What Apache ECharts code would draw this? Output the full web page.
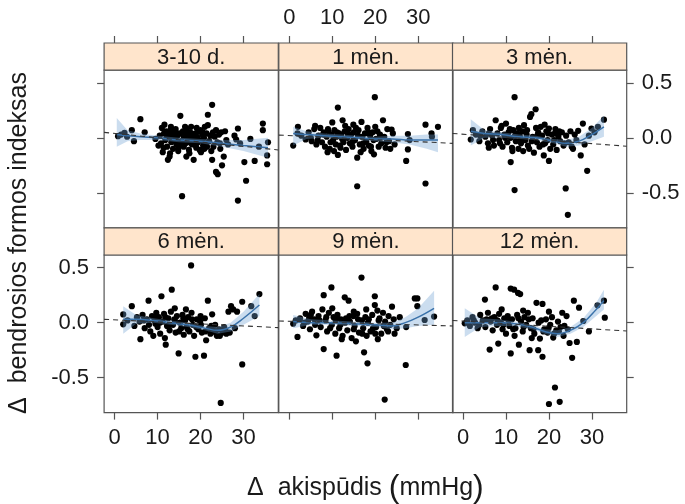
<!DOCTYPE html>
<html><head><meta charset="utf-8">
<script src="https://cdn.jsdelivr.net/npm/echarts@6/dist/echarts.min.js"></script>
<style>html,body{margin:0;padding:0;background:#fff}#c{width:685px;height:504px}</style>
</head><body><div id="c"></div>
<script>
// ---------------- data ----------------
const panelLabels = ['3-10 d.', '1 mėn.', '3 mėn.', '6 mėn.', '9 mėn.', '12 mėn.'];
const xTicks = [0, 10, 20, 30];
const yTicks = [-0.5, 0, 0.5];
const xTitle = 'akispūdis';
const yTitle = 'bendrosios formos indeksas';

const pts1 = [[0.8,0.015],[2.3,0.045],[2.9,0.01],[4.0,0.07],[4.5,-0.03],[6.0,0.17],[7.0,0.05],[1.5,0.03],
[10.5,0.02],[10.8,-0.05],[11.0,0.09],[11.2,-0.13],[11.5,0.04],[11.8,-0.02],[12.0,0.06],[12.2,-0.08],[12.4,-0.2],[12.6,0.01],[12.8,-0.17],[13.0,0.07],[13.2,-0.04],[13.4,0.03],[13.6,-0.1],[13.8,0.05],[14.0,-0.01],[14.2,0.08],[14.4,-0.06],[14.6,0.02],[14.8,-0.12],[15.0,0.04],[15.3,0.2],[15.5,-0.03],[15.7,-0.53],[15.9,0.06],[16.1,-0.08],[16.3,0.01],[16.5,-0.05],[16.7,-0.17],[16.9,0.03],[17.1,-0.02],[17.4,-0.14],[17.6,0.05],[17.8,0.1],[18.0,-0.06],[18.2,0.02],[18.4,-0.2],[18.6,-0.03],[18.8,0.04],[19.0,-0.09],[19.2,0.01],[19.4,-0.04],[19.6,0.06],[19.8,-0.11],[20.0,0.07],[20.2,-0.02],[20.4,0.03],[20.6,-0.07],[20.8,0.0],[21.0,0.1],[21.2,-0.05],[21.4,0.04],[21.7,0.115],[21.7,0.21],[22.0,-0.03],[22.3,0.02],[22.7,0.3],[22.7,-0.2],[23.0,-0.08],[23.3,0.01],[23.6,0.07],[23.6,-0.31],[23.9,-0.04],[24.0,-0.33],[24.3,0.03],[24.6,-0.1],[25.0,-0.25],[25.4,-0.17],[25.7,0.06],[26.0,-0.02],[26.4,-0.06],[27.9,0.02],[28.3,-0.015],[28.7,0.085],[28.7,-0.57],[29.2,-0.05],[30.2,-0.22],[30.6,-0.39],[31.6,-0.01],[32.6,-0.21],[33.6,-0.08],[34.5,0.13],[34.5,0.07],[35.5,-0.16],[35.5,-0.24],[35.7,-0.04],[9.5,-0.01],[10.2,-0.07],[11.6,0.12],[13.1,0.1],[14.9,-0.09],[16.8,0.08],[19.1,0.09],[20.9,-0.1],[22.5,-0.12],[24.8,0.05],[12.9,-0.14],[17.3,-0.11],
[12.1,0.0],[13.3,-0.02],[14.1,0.04],[15.2,-0.06],[16.0,0.02],[17.0,-0.04],[18.1,0.01],[19.5,-0.02],[20.5,0.05],[21.5,-0.08],[12.5,0.05],[14.5,-0.03],[16.4,0.1],[18.9,-0.07],[20.1,-0.13],[11.4,-0.09],[13.7,0.0],[17.7,-0.01],[22.9,0.05],[24.5,-0.05]];
const pts2 = [[0.9,-0.07],[2.0,0.1],[1.9,0.04],[3.8,-0.015],[2.8,0.02],[4.5,0.05],[5.2,-0.03],[5.8,0.08],[6.3,-0.06],[6.8,0.02],[7.2,0.09],[7.6,-0.04],[8.0,0.05],[8.3,-0.08],[8.7,0.01],[9.1,0.06],[9.4,-0.1],[9.8,0.03],[10.0,0.14],[10.2,-0.02],[10.5,0.07],[10.8,-0.06],[11.0,0.01],[11.3,0.275],[11.3,-0.155],[11.6,0.04],[11.9,-0.09],[12.1,0.02],[12.4,0.16],[12.6,-0.04],[12.9,0.06],[13.2,-0.11],[13.5,0.0],[13.8,0.08],[14.1,-0.05],[14.4,0.03],[14.7,-0.08],[15.0,0.05],[15.3,-0.02],[15.8,-0.44],[15.8,-0.18],[16.1,0.07],[16.4,-0.06],[16.8,0.145],[17.0,0.01],[17.3,-0.1],[17.6,0.04],[17.9,-0.03],[18.2,0.09],[18.5,-0.07],[18.8,0.02],[19.1,-0.12],[19.4,0.05],[19.7,-0.15],[19.9,0.37],[20.2,-0.01],[20.5,0.06],[20.8,-0.08],[21.1,0.03],[21.4,-0.05],[21.8,0.16],[22.1,0.01],[22.4,-0.09],[22.8,0.08],[23.2,-0.03],[23.8,0.076],[24.1,0.04],[24.5,-0.06],[27.2,-0.21],[27.6,-0.105],[27.6,0.035],[28.0,-0.02],[31.7,-0.415],[31.7,0.12],[33.1,0.04],[33.2,0.01],[34.6,0.1],[6.0,0.11],[8.9,-0.13],[13.0,0.11],[16.6,-0.13],[20.0,0.1],[23.5,-0.1],[10.4,-0.12],[14.9,0.12],
[5.0,0.0],[6.6,-0.02],[7.9,0.03],[9.6,-0.04],[11.1,0.05],[12.3,-0.01],[13.6,0.04],[14.8,-0.03],[16.0,0.02],[17.2,-0.05],[18.4,0.05],[19.6,-0.02],[21.0,0.0],[22.6,-0.04],[9.0,0.08],[11.8,-0.07],[15.5,0.09],[19.0,-0.08]];
const pts3 = [[1.8,-0.015],[2.3,0.07],[3.0,0.03],[3.8,-0.03],[4.5,0.06],[5.2,0.01],[5.8,-0.05],[6.3,0.08],[6.8,0.02],[7.2,-0.07],[7.6,0.16],[8.0,0.04],[8.4,-0.02],[8.8,0.09],[9.2,-0.08],[9.6,0.03],[10.0,0.13],[10.3,-0.04],[10.6,0.05],[11.1,-0.22],[11.1,0.0],[11.4,-0.09],[11.7,0.07],[12.0,0.37],[12.0,-0.475],[12.3,-0.03],[12.6,0.04],[12.9,-0.1],[13.2,0.02],[13.5,-0.05],[13.8,0.06],[14.2,0.115],[14.5,-0.02],[14.8,0.03],[15.1,-0.07],[15.6,0.19],[15.9,0.215],[16.2,0.01],[16.5,-0.135],[16.9,0.26],[17.2,-0.04],[17.5,0.05],[17.8,-0.08],[18.1,0.1],[18.4,0.02],[18.8,-0.16],[19.1,-0.05],[19.4,0.06],[19.7,-0.02],[20.0,0.085],[20.0,-0.21],[20.3,-0.1],[20.7,0.03],[21.0,-0.06],[21.4,0.04],[21.8,-0.11],[22.2,0.01],[22.6,-0.03],[23.0,0.05],[23.4,-0.07],[23.9,-0.46],[24.0,0.02],[24.4,-0.7],[24.6,-0.04],[25.0,0.06],[25.6,-0.1],[26.0,0.03],[26.4,-0.02],[26.8,0.064],[27.4,-0.16],[27.9,0.13],[28.3,-0.06],[28.9,-0.3],[29.3,0.02],[29.9,0.085],[30.6,0.05],[31.4,0.1],[32.8,0.165],[6.0,-0.09],[9.0,0.11],[14.0,-0.12],[17.0,0.09],[21.5,0.08],[25.3,-0.08],[13.0,0.09],[19.0,0.12],
[4.0,0.02],[6.0,0.04],[7.0,-0.02],[9.8,0.0],[10.9,0.08],[12.1,0.02],[13.4,-0.01],[14.9,0.07],[16.0,-0.03],[17.3,0.02],[18.6,-0.06],[19.8,0.04],[21.2,-0.02],[22.4,0.06],[23.6,-0.05],[8.6,-0.05],[11.5,-0.12],[15.4,-0.1]];
const pts4 = [[2.0,-0.015],[2.0,0.075],[3.0,0.02],[4.0,0.15],[4.6,-0.03],[5.2,0.05],[5.8,0.01],[6.0,-0.15],[6.5,0.07],[7.0,-0.05],[7.5,0.03],[7.9,0.2],[8.3,-0.08],[8.7,0.06],[9.0,-0.12],[9.3,0.02],[9.7,0.09],[10.0,-0.04],[10.3,0.05],[10.6,-0.1],[10.9,0.24],[11.2,0.01],[11.5,0.08],[11.9,-0.2],[12.2,-0.03],[12.5,0.04],[12.8,-0.07],[13.1,0.1],[13.3,0.3],[13.6,-0.02],[13.9,0.03],[14.2,-0.09],[14.5,0.06],[14.9,-0.28],[15.2,0.0],[15.5,-0.05],[15.8,0.07],[16.1,-0.11],[16.4,0.02],[16.8,-0.04],[17.1,0.05],[17.4,-0.08],[17.8,0.52],[17.9,0.09],[18.2,-0.02],[18.5,-0.12],[18.8,-0.31],[19.1,0.03],[19.5,-0.06],[19.9,0.01],[20.3,-0.09],[20.8,-0.3],[21.0,0.04],[21.3,-0.16],[21.7,0.2],[22.0,-0.05],[22.3,-0.1],[22.7,0.076],[23.0,-0.07],[23.4,-0.02],[23.8,-0.12],[24.3,-0.06],[24.7,-0.73],[25.1,-0.09],[25.5,-0.04],[26.0,-0.1],[26.5,0.1],[27.1,0.15],[27.6,0.12],[28.0,-0.05],[28.5,0.1],[29.7,0.19],[29.7,-0.38],[31.8,0.15],[32.6,0.06],[33.7,0.26],[11.7,-0.14],[16.6,0.12],[20.0,0.06],[14.0,0.13],[9.5,-0.01],
[6.8,0.02],[8.0,-0.02],[9.2,0.05],[10.5,0.0],[11.8,0.05],[12.9,-0.02],[14.0,0.02],[15.0,-0.08],[16.0,0.04],[17.0,-0.06],[18.0,0.03],[19.0,-0.04],[20.1,-0.02],[21.1,-0.08],[22.5,-0.03],[23.5,-0.09],[24.5,-0.12],[25.8,-0.07],[26.8,-0.09]];
const pts5 = [[0.9,-0.01],[1.5,0.02],[1.9,-0.13],[2.5,0.04],[3.2,-0.03],[3.8,0.08],[4.3,0.01],[4.8,-0.06],[5.3,0.1],[5.8,0.03],[6.3,-0.115],[6.8,0.06],[7.3,-0.04],[7.7,0.12],[8.0,0.25],[8.0,-0.24],[8.4,0.02],[8.8,-0.08],[9.2,0.09],[9.8,0.32],[9.9,-0.02],[10.3,0.05],[10.7,-0.1],[11.0,-0.3],[11.2,0.07],[11.6,-0.05],[12.0,0.03],[12.4,-0.12],[12.9,0.23],[13.2,0.04],[13.5,-0.07],[13.8,0.2],[14.1,0.01],[14.5,-0.14],[14.9,0.06],[15.2,-0.03],[15.5,-0.17],[15.8,0.08],[16.2,-0.09],[16.8,0.41],[16.9,0.02],[17.2,-0.05],[17.4,-0.27],[17.7,0.05],[18.0,-0.12],[18.2,-0.37],[18.5,0.03],[18.9,-0.08],[19.3,0.07],[19.9,0.24],[19.9,0.16],[20.2,-0.04],[20.6,-0.15],[21.0,0.04],[21.4,-0.1],[21.8,0.09],[22.2,-0.7],[22.3,0.01],[22.7,-0.06],[23.1,0.06],[23.5,-0.02],[23.9,0.145],[24.3,0.03],[25.0,-0.05],[25.7,0.05],[27.1,-0.385],[27.2,-0.04],[29.2,0.22],[29.8,0.22],[29.8,0.15],[31.5,0.024],[33.7,0.055],[5.0,0.07],[10.0,0.13],[15.0,0.1],[20.5,0.11],[24.5,-0.1],[12.2,-0.15],[17.9,0.12],
[3.5,0.0],[4.6,0.04],[6.0,-0.02],[7.0,0.02],[8.6,0.05],[9.5,-0.05],[10.8,0.02],[11.9,-0.02],[13.0,0.0],[14.0,0.06],[15.0,-0.06],[16.0,0.03],[17.0,-0.1],[18.3,0.0],[19.5,-0.05],[20.8,0.02],[22.0,-0.03],[23.0,-0.08],[20.0,-0.1]];
const pts6 = [[0.4,-0.006],[1.0,0.02],[1.6,-0.03],[2.2,0.05],[2.8,0.0],[3.4,-0.05],[4.0,0.07],[4.6,0.02],[5.1,0.21],[5.2,-0.04],[5.8,0.09],[6.2,-0.245],[6.4,0.01],[6.9,-0.07],[7.3,0.05],[7.6,0.32],[7.9,-0.02],[8.2,-0.19],[8.4,0.08],[8.8,0.0],[9.2,-0.06],[9.6,0.04],[10.0,-0.1],[10.4,0.06],[10.8,-0.03],[11.1,0.31],[11.1,-0.28],[11.4,0.03],[11.9,0.3],[12.2,-0.05],[12.6,0.07],[12.8,0.27],[13.0,-0.2],[13.3,0.26],[13.5,0.01],[13.9,-0.08],[14.3,0.05],[14.7,-0.02],[15.1,0.09],[15.5,-0.25],[15.8,-0.05],[16.2,0.04],[16.6,-0.1],[17.1,0.18],[17.5,-0.25],[17.9,-0.145],[18.2,0.02],[18.5,0.17],[18.5,-0.31],[18.9,-0.06],[19.3,0.03],[19.7,-0.09],[20.0,-0.74],[20.3,-0.02],[20.7,0.05],[21.0,-0.136],[21.4,-0.59],[21.7,-0.07],[22.1,0.01],[22.5,-0.72],[22.7,-0.04],[23.1,0.09],[23.6,-0.03],[24.1,0.06],[24.8,-0.185],[25.4,-0.32],[25.8,0.2],[26.5,-0.175],[27.0,0.136],[28.0,0.015],[29.3,-0.08],[31.3,0.157],[32.8,0.2],[33.0,0.045],[9.0,0.12],[14.0,0.11],[16.0,-0.14],[20.0,0.1],[12.0,-0.12],
[2.5,0.02],[3.8,-0.02],[5.5,0.03],[6.7,0.04],[8.0,0.02],[9.4,-0.02],[10.6,0.02],[11.7,-0.06],[12.9,0.04],[14.1,-0.04],[15.3,0.03],[16.4,-0.06],[17.6,0.0],[18.7,-0.08],[19.9,-0.05],[21.2,-0.1],[22.3,-0.08],[23.4,-0.12],[24.4,-0.06]];

// smoother: x positions, fitted value, band low/high
const fitX1 = [0.5,3,6,10,15,20,25,30,35.7];
const fitY1 = [0.03,0.02,0.01,0.0,-0.02,-0.03,-0.05,-0.07,-0.09];
const lo1 = [-0.08,-0.03,-0.02,-0.02,-0.04,-0.05,-0.08,-0.12,-0.18];
const hi1 = [0.18,0.07,0.04,0.02,0.0,-0.01,-0.02,-0.02,0.0];

const fitX2 = [0.9,4,8,12,16,20,24,28,32,34.6];
const fitY2 = [0.04,0.03,0.02,0.01,0.0,-0.01,-0.01,-0.02,-0.02,-0.02];
const lo2 = [-0.07,-0.01,0.0,-0.01,-0.02,-0.03,-0.04,-0.06,-0.1,-0.13];
const hi2 = [0.1,0.06,0.04,0.03,0.02,0.01,0.02,0.02,0.03,0.03];

const fitX3 = [1.8,5,9,13,17,21,24,27,30,32.8];
const fitY3 = [0.06,0.04,0.03,0.01,0.0,-0.03,-0.05,-0.03,0.03,0.1];
const lo3 = [-0.07,0.0,0.0,-0.01,-0.02,-0.05,-0.08,-0.07,-0.03,0.01];
const hi3 = [0.17,0.07,0.05,0.03,0.02,-0.01,-0.02,0.01,0.09,0.2];

const fitX4 = [2,5,9,13,17,21,24,27,30,33.7];
const fitY4 = [0.03,0.03,0.02,0.0,-0.02,-0.05,-0.07,-0.04,0.04,0.16];
const lo4 = [-0.1,-0.01,0.0,-0.02,-0.04,-0.07,-0.1,-0.08,-0.02,0.06];
const hi4 = [0.15,0.07,0.04,0.02,0.0,-0.03,-0.04,0.0,0.1,0.26];

const fitX5 = [0.9,5,10,15,20,24,27,30,33.7];
const fitY5 = [0.01,0.0,0.0,-0.01,-0.02,-0.03,0.0,0.05,0.13];
const lo5 = [-0.05,-0.02,-0.02,-0.03,-0.04,-0.06,-0.05,-0.03,-0.02];
const hi5 = [0.07,0.03,0.02,0.01,0.0,0.0,0.05,0.13,0.29];

const fitX6 = [0.4,4,8,12,16,19,22,25,28,31,32.8];
const fitY6 = [0.0,0.0,0.0,-0.01,-0.04,-0.08,-0.1,-0.07,0.0,0.12,0.2];
const lo6 = [-0.13,-0.04,-0.03,-0.03,-0.06,-0.1,-0.13,-0.1,-0.04,0.06,0.12];
const hi6 = [0.13,0.04,0.03,0.01,-0.02,-0.06,-0.07,-0.04,0.04,0.18,0.3];

// dashed linear trend: value at left and right panel edge
const trendX = [-2.45, 38.1];
const trend1 = [0.05, -0.11];
const trend2 = [0.025, -0.05];
const trend3 = [0.04, -0.076];
const trend4 = [0.03, -0.045];
const trend5 = [0.015, -0.03];
const trend6 = [0.02, -0.076];

// ---------------- layout ----------------
const points = [pts1, pts2, pts3, pts4, pts5, pts6];
const fitXs = [fitX1, fitX2, fitX3, fitX4, fitX5, fitX6];
const fitYs = [fitY1, fitY2, fitY3, fitY4, fitY5, fitY6];
const los = [lo1, lo2, lo3, lo4, lo5, lo6];
const his = [hi1, hi2, hi3, hi4, hi5, hi6];
const trends = [trend1, trend2, trend3, trend4, trend5, trend6];

const PANEL_L = [104.1, 278.8, 452.5];
const PANEL_W = 174.2;
const STRIP_TOP = [43, 227.8];
const STRIP_H = 27.2;
const PLOT_H = 157.6;
const X_MIN = -2.45, X_MAX = 38.1, Y_MIN = -0.818, Y_MAX = 0.615;
const FONT = 'Liberation Sans, Arial, sans-serif';
const BORDER = '#555555';
const TICK_FS = 22;

const grids = [], xAxes = [], yAxes = [], series = [], graphics = [];
for (let i = 0; i < 6; i++) {
  const r = Math.floor(i / 3), c = i % 3;
  const left = PANEL_L[c], top = STRIP_TOP[r] + STRIP_H;
  grids.push({left: left, top: top, width: PANEL_W, height: PLOT_H, show: true,
    borderColor: BORDER, borderWidth: 1.2, backgroundColor: 'transparent'});
  const showXLabel = (r === 0 && c === 1) || (r === 1 && c !== 1);
  xAxes.push({type: 'value', gridIndex: i, min: X_MIN, max: X_MAX,
    position: r === 0 ? 'top' : 'bottom', offset: r === 0 ? STRIP_H : 0,
    axisLine: {show: false, onZero: false}, splitLine: {show: false},
    axisTick: {show: true, inside: false, length: 7, customValues: xTicks, lineStyle: {color: BORDER, width: 1.2}},
    axisLabel: {show: showXLabel, customValues: xTicks, margin: 14, fontSize: TICK_FS, fontFamily: FONT, color: '#1a1a1a'}});
  const showYTick = c !== 1;
  const showYLabel = (r === 0 && c === 2) || (r === 1 && c === 0);
  yAxes.push({type: 'value', gridIndex: i, min: Y_MIN, max: Y_MAX,
    position: c === 2 ? 'right' : 'left',
    axisLine: {show: false, onZero: false}, splitLine: {show: false},
    axisTick: {show: showYTick, inside: false, length: 7, customValues: yTicks, lineStyle: {color: BORDER, width: 1.2}},
    axisLabel: {show: showYLabel, customValues: yTicks, margin: 15, fontSize: TICK_FS, fontFamily: FONT, color: '#1a1a1a',
      formatter: v => v.toFixed(1)}});

  series.push({type: 'scatter', xAxisIndex: i, yAxisIndex: i, data: points[i], symbolSize: 6.2,
    itemStyle: {color: '#000', opacity: 1}, z: 2, silent: true});
  const fx = fitXs[i], lo = los[i], hi = his[i];
  series.push({type: 'custom', xAxisIndex: i, yAxisIndex: i, data: [[fx[0], lo[0]]], z: 3, silent: true,
    renderItem: (params, api) => {
      const pts = [];
      for (let k = 0; k < fx.length; k++) pts.push(api.coord([fx[k], hi[k]]));
      for (let k = fx.length - 1; k >= 0; k--) pts.push(api.coord([fx[k], lo[k]]));
      return {type: 'polygon', shape: {points: pts}, style: {fill: 'rgba(110,160,210,0.36)', stroke: null}};
    }});
  series.push({type: 'line', xAxisIndex: i, yAxisIndex: i, data: fx.map((x, k) => [x, fitYs[i][k]]),
    smooth: 0.4, showSymbol: false, symbol: 'none', lineStyle: {color: '#3a72aa', width: 1.5}, z: 4, silent: true});
  series.push({type: 'line', xAxisIndex: i, yAxisIndex: i, data: trendX.map((x, k) => [x, trends[i][k]]),
    showSymbol: false, symbol: 'none', lineStyle: {color: '#333', width: 1.1, type: [5, 4]}, z: 5, silent: true});

  graphics.push({type: 'rect', shape: {x: left, y: STRIP_TOP[r], width: PANEL_W, height: STRIP_H},
    style: {fill: '#FFE5CC', stroke: BORDER, lineWidth: 1.2}, z: 1});
  graphics.push({type: 'text', x: left + PANEL_W / 2, y: STRIP_TOP[r] + STRIP_H / 2 + 1, z: 2,
    style: {text: panelLabels[i], fontSize: 22, fontFamily: FONT, fill: '#1a1a1a', align: 'center', verticalAlign: 'middle'}});
}
graphics.push({type: 'text', x: (PANEL_L[0] + PANEL_L[2] + PANEL_W) / 2, y: 488, z: 2,
  style: {text: 'Δ  ' + xTitle + ' {p|(}mmHg{p|)}', fontSize: 25, fontFamily: FONT, fill: '#1a1a1a',
    align: 'center', verticalAlign: 'middle', rich: {p: {fontSize: 32, fontFamily: FONT, fill: '#1a1a1a', fontWeight: 'lighter'}}}});
graphics.push({type: 'text', x: 19, y: 243, rotation: Math.PI / 2, z: 2,
  style: {text: 'Δ  ' + yTitle, fontSize: 25, fontFamily: FONT, fill: '#1a1a1a', align: 'center', verticalAlign: 'middle'}});

const chart = echarts.init(document.getElementById('c'), null, {renderer: 'canvas'});
chart.setOption({animation: false, backgroundColor: '#fff', grid: grids, xAxis: xAxes, yAxis: yAxes,
  series: series, graphic: graphics});
</script></body></html>
